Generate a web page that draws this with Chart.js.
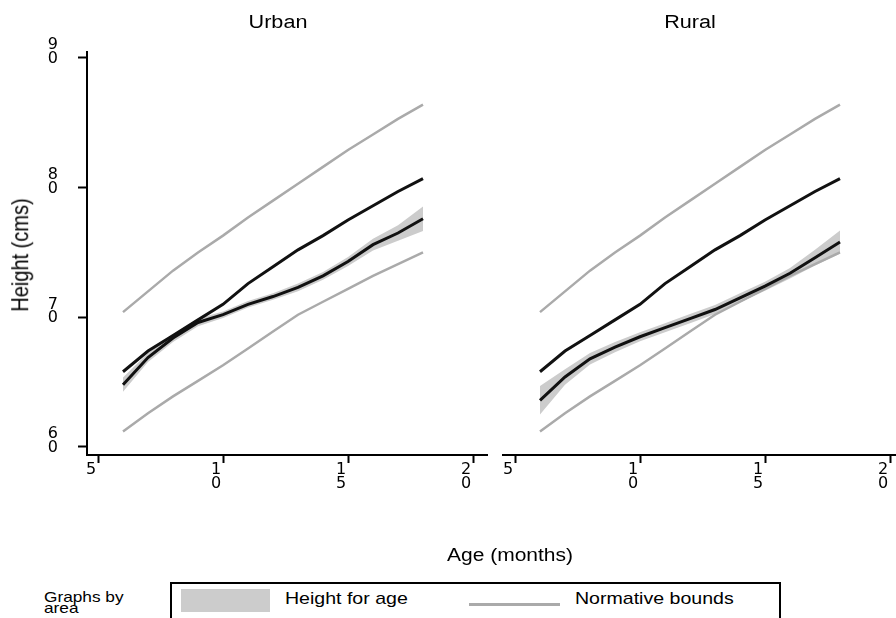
<!DOCTYPE html>
<html>
<head>
<meta charset="utf-8">
<script src="https://cdn.jsdelivr.net/npm/chart.js@4"></script>
<style>
  body { margin: 0; width: 896px; height: 618px; overflow: hidden; background: #fff; position: relative; font-family: 'Liberation Sans', Arial, sans-serif; color: #000; }
  canvas { position: absolute; top: 0; }
  .lbl { position: absolute; white-space: nowrap; transform: translate(-50%, -50%) scaleX(1.2); }
  .ytitle { position: absolute; white-space: nowrap; transform: translate(-50%, -50%) rotate(-90deg) scaleY(1.2); font-size: 20px; }
  .legend { position: absolute; left: 170px; top: 582px; width: 607px; height: 60px; border: 2px solid #000; }
  .lt { position: absolute; white-space: nowrap; transform-origin: left center; transform: scaleX(1.15); font-size: 17px; }
</style>
</head>
<body>
<canvas id="urban" width="500" height="540" style="left:0"></canvas>
<canvas id="rural" width="504" height="540" style="left:400px"></canvas>

<div class="lbl" style="left:278px; top:22px; font-size:18px">Urban</div>
<div class="lbl" style="left:690px; top:22px; font-size:18px">Rural</div>
<div class="lbl" style="left:510px; top:555px; font-size:17.5px">Age (months)</div>
<div class="ytitle" style="left:20px; top:255px">Height (cms)</div>

<div class="lt" style="left:44px; top:591px; font-size:15px; line-height:11px">Graphs by<br>area</div>
<div class="legend"></div>
<div style="position:absolute; left:181px; top:589px; width:89px; height:23px; background:#cccccc"></div>
<div class="lt" style="left:285px; top:589px">Height for age</div>
<div style="position:absolute; left:469px; top:603px; width:91px; height:3px; background:#aaaaaa"></div>
<div class="lt" style="left:575px; top:589px">Normative bounds</div>

<script>
// ages in months, one point per month
const ages = [6, 7, 8, 9, 10, 11, 12, 13, 14, 15, 16, 17, 18];

// normative reference curves (same for both areas)
const normUpper  = [70.4, 72.0, 73.6, 75.0, 76.3, 77.7, 79.0, 80.3, 81.6, 82.9, 84.1, 85.3, 86.4];
const normMedian = [65.8, 67.4, 68.6, 69.8, 71.0, 72.6, 73.9, 75.2, 76.3, 77.5, 78.6, 79.7, 80.7];
const normLower  = [61.2, 62.6, 63.9, 65.1, 66.3, 67.6, 68.9, 70.2, 71.2, 72.2, 73.2, 74.1, 75.0];

// height for age, with confidence band
const urbanHfa   = [64.8, 66.9, 68.4, 69.6, 70.2, 71.0, 71.6, 72.3, 73.2, 74.3, 75.6, 76.5, 77.6];
const urbanLo    = [64.25, 66.55, 68.1, 69.3, 69.95, 70.75, 71.35, 72.0, 72.9, 73.95, 75.15, 75.9, 76.65];
const urbanHi    = [65.35, 67.25, 68.7, 69.9, 70.45, 71.25, 71.85, 72.6, 73.5, 74.65, 76.05, 77.1, 78.55];

const ruralHfa   = [63.6, 65.4, 66.8, 67.7, 68.5, 69.2, 69.9, 70.6, 71.5, 72.4, 73.4, 74.6, 75.8];
const ruralLo    = [62.5, 64.8, 66.35, 67.3, 68.15, 68.85, 69.55, 70.25, 71.15, 72.05, 73.0, 74.0, 74.9];
const ruralHi    = [64.7, 66.0, 67.25, 68.1, 68.85, 69.55, 70.25, 70.95, 71.85, 72.75, 73.8, 75.2, 76.7];

const xTicks = [5, 10, 15, 20];
const yTicks = [60, 70, 80, 90];

function pts(values) {
    return ages.map((a, i) => ({ x: a, y: values[i] }));
}

function line(values, color, width) {
    return {
        data: pts(values),
        borderColor: color,
        borderWidth: width,
        pointRadius: 0,
        tension: 0,
        fill: false
    };
}

const tickFont = { family: 'DejaVu Sans', size: 16, lineHeight: 0.85 };

function makePanel(id, hfa, lo, hi, xMin, padLeft, padRight, showY) {
    const ctx = document.getElementById(id).getContext('2d');
    return new Chart(ctx, {
        type: 'line',
        data: {
            datasets: [
                line(hfa, '#111111', 3),
                line(normMedian, '#111111', 3),
                line(normUpper, '#aaaaaa', 2.5),
                line(normLower, '#aaaaaa', 2.5),
                { data: pts(lo), borderWidth: 0, pointRadius: 0, fill: false },
                { data: pts(hi), borderWidth: 0, pointRadius: 0, fill: '-1', backgroundColor: '#cccccc' }
            ]
        },
        options: {
            responsive: false,
            animation: false,
            devicePixelRatio: 1,
            layout: { padding: { top: 52, bottom: 0, left: padLeft, right: padRight } },
            plugins: { legend: { display: false }, tooltip: { enabled: false } },
            scales: {
                x: {
                    type: 'linear',
                    min: xMin,
                    max: 20.56,
                    afterBuildTicks: s => { s.ticks = xTicks.map(v => ({ value: v })); },
                    afterFit: s => { s.height = 85; },
                    border: { display: true, color: '#000', width: 2 },
                    grid: { drawOnChartArea: false, drawTicks: true, tickLength: 8, tickWidth: 2, tickColor: '#000' },
                    ticks: {
                        color: '#000',
                        font: tickFont,
                        padding: 0,
                        labelOffset: -7,
                        maxRotation: 0,
                        callback: v => String(v).split('')
                    }
                },
                y: {
                    type: 'linear',
                    display: showY,
                    min: 59.38,
                    max: 90.46,
                    afterBuildTicks: s => { s.ticks = yTicks.map(v => ({ value: v })); },
                    afterFit: s => { if (showY) s.width = 87; },
                    border: { display: true, color: '#000', width: 2 },
                    grid: { drawOnChartArea: false, drawTicks: true, tickLength: 9, tickWidth: 2, tickColor: '#000' },
                    ticks: {
                        color: '#000',
                        font: tickFont,
                        padding: 20,
                        labelOffset: -6,
                        callback: v => String(v).split('')
                    }
                }
            }
        }
    });
}

makePanel('urban', urbanHfa, urbanLo, urbanHi, 4.56, 0, 13, true);
makePanel('rural', ruralHfa, ruralLo, ruralHi, 4.52, 103, 0, false);
</script>
</body>
</html>
